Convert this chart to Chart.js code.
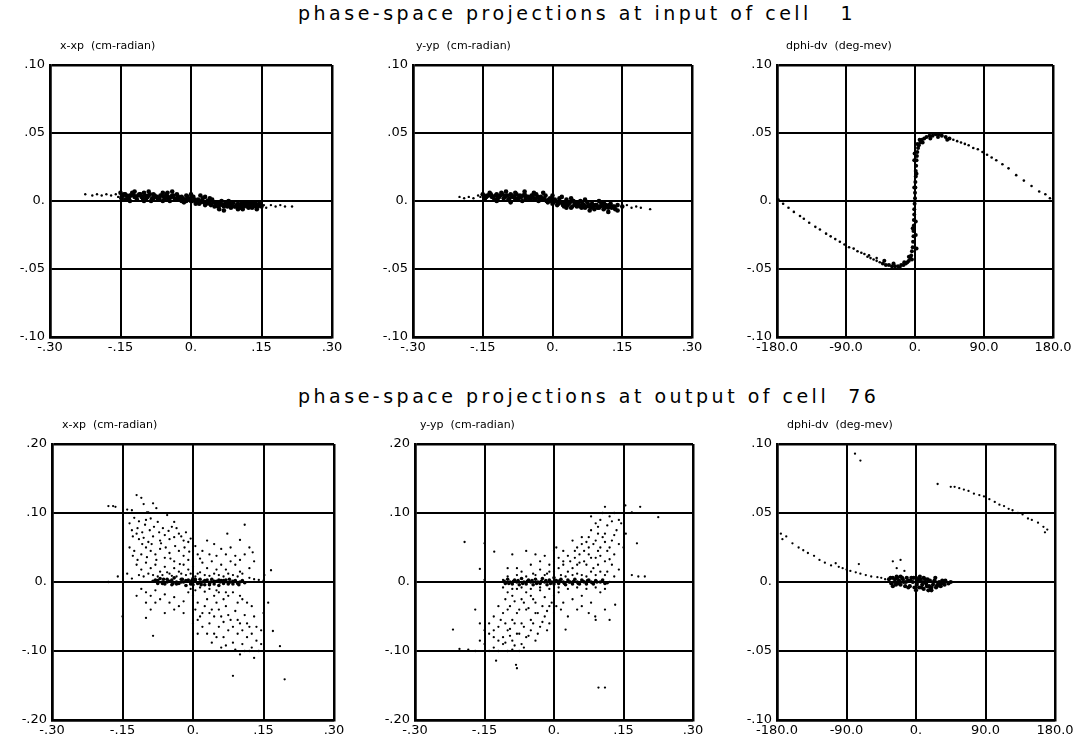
<!DOCTYPE html>
<html>
<head>
<meta charset="utf-8">
<script src="https://cdn.jsdelivr.net/npm/chart.js@4.4.0/dist/chart.umd.min.js"></script>
<style>
  body { margin: 0; background: #fff; width: 1082px; height: 740px; position: relative; overflow: hidden; font-family: "DejaVu Sans", sans-serif; }
  .ttl { position: absolute; white-space: pre; font-size: 19px; letter-spacing: 3.5px; color: #000; }
  canvas { position: absolute; }
</style>
</head>
<body>
<div class="ttl" style="left:298px;top:2px">phase-space projections at input of cell   1</div>
<div class="ttl" style="left:298px;top:385px">phase-space projections at output of cell  76</div>
<canvas id="c1"></canvas>
<canvas id="c2"></canvas>
<canvas id="c3"></canvas>
<canvas id="c4"></canvas>
<canvas id="c5"></canvas>
<canvas id="c6"></canvas>
<script>
// tick values + labels
const xxTicks = [-0.3, -0.15, 0, 0.15, 0.3];
const xxLabels = ["-.30", "-.15", "0.", ".15", ".30"];
const phiTicks = [-180, -90, 0, 90, 180];
const phiLabels = ["-180.0", "-90.0", "0.", "90.0", "180.0"];
const small_yTicks = [-0.1, -0.05, 0, 0.05, 0.1];
const small_yLabels = ["-.10", "-.05", "0.", ".05", ".10"];
const big_yTicks = [-0.2, -0.1, 0, 0.1, 0.2];
const big_yLabels = ["-.20", "-.10", "0.", ".10", ".20"];

// input of cell 1
const in_xxp = [[-0.225,0.005],[-0.21,0.004],[-0.2,0.005],[-0.19,0.004],[-0.18,0.005],[-0.17,0.004],[-0.16,0.005],[-0.155,0.003],[-0.15,0.006],[-0.148,0.002],[-0.145,0.004],[-0.14,0.005],[-0.135,0.002],[-0.13,0.004],[-0.125,0.006],[-0.12,0.003],[-0.115,0.001],[-0.11,0.005],[-0.105,0.003],[-0.1,0.006],[-0.095,0.002],[-0.09,0.004],[-0.085,0.0],[-0.08,0.005],[-0.075,0.003],[-0.07,0.001],[-0.065,0.004],[-0.06,0.006],[-0.055,0.002],[-0.05,0.003],[-0.045,0.0],[-0.04,0.004],[-0.035,0.002],[-0.03,0.005],[-0.025,0.001],[-0.02,0.003],[-0.015,-0.001],[-0.01,0.004],[-0.005,0.002],[0,0.0],[0.005,0.003],[0.01,-0.002],[0.015,0.001],[0.02,-0.001],[0.025,0.002],[0.03,-0.003],[0.035,0.0],[0.04,-0.002],[0.045,0.001],[0.05,-0.004],[0.055,-0.001],[0.06,-0.003],[0.065,0.0],[0.07,-0.004],[0.075,-0.002],[0.08,-0.003],[0.085,-0.005],[0.09,-0.001],[0.095,-0.004],[0.1,-0.002],[0.105,-0.005],[0.11,-0.003],[0.115,-0.001],[0.12,-0.004],[0.125,-0.002],[0.13,-0.005],[0.135,-0.003],[0.14,-0.004],[0.145,-0.002],[0.15,-0.004],[0.155,-0.003],[0.16,-0.005],[0.17,-0.003],[0.18,-0.004],[0.19,-0.003],[0.2,-0.004],[0.215,-0.004],
  [-0.14,0.001],[-0.12,0.007],[-0.1,0.0],[-0.08,0.002],[-0.06,0.0],[-0.04,0.007],[-0.02,0.0],[0,0.005],[0.02,0.004],[0.04,0.002],[0.06,-0.006],[0.08,0.0],[0.1,-0.006],[0.12,-0.001],[0.14,-0.006],[-0.13,0.0],[-0.09,0.007],[-0.05,0.006],[-0.01,0.0],[0.03,0.003],[0.07,-0.007],[0.11,-0.006],[0.13,-0.001],
  [-0.1475,0.003],[-0.1425,0.005],[-0.1375,0.004],[-0.1325,0.002],[-0.1275,0.004],[-0.1225,0.005],[-0.1175,0.003],[-0.1125,0.004],[-0.1075,0.005],[-0.1025,0.002],[-0.0975,0.004],[-0.0925,0.003],[-0.0875,0.005],[-0.0825,0.002],[-0.0775,0.004],[-0.0725,0.003],[-0.0675,0.002],[-0.0625,0.004],[-0.0575,0.003],[-0.0525,0.005],[-0.0475,0.002],[-0.0425,0.003],[-0.0375,0.004],[-0.0325,0.001],[-0.0275,0.003],[-0.0225,0.002],[-0.0175,0.002],[-0.0125,0.001],[-0.0075,0.003],[-0.0025,0.001],[0.0025,0.0],[0.0075,0.001],[0.0125,0.0],[0.0175,-0.002],[0.0225,0.0],[0.0275,-0.001],[0.0325,-0.002],[0.0375,0.0],[0.0425,-0.003],[0.0475,-0.001],[0.0525,-0.002],[0.0575,-0.004],[0.0625,-0.002],[0.0675,-0.003],[0.0725,-0.002],[0.0775,-0.004],[0.0825,-0.002],[0.0875,-0.003],[0.0925,-0.004],[0.0975,-0.003],[0.1025,-0.004],[0.1075,-0.002],[0.1125,-0.004],[0.1175,-0.003],[0.1225,-0.005],[0.1275,-0.003],[0.1325,-0.004],[0.1375,-0.002],[0.1425,-0.004],[0.1475,-0.003]];

const in_yyp = [[-0.2,0.003],[-0.19,0.002],[-0.18,0.003],[-0.17,0.002],[-0.16,0.004],[-0.155,0.003],[-0.15,0.005],[-0.145,0.002],[-0.14,0.004],[-0.135,0.006],[-0.13,0.003],[-0.125,0.001],[-0.12,0.005],[-0.115,0.003],[-0.11,0.006],[-0.105,0.002],[-0.1,0.004],[-0.095,0.001],[-0.09,0.005],[-0.085,0.003],[-0.08,0.006],[-0.075,0.002],[-0.07,0.004],[-0.065,0.0],[-0.06,0.005],[-0.055,0.003],[-0.05,0.001],[-0.045,0.004],[-0.04,0.002],[-0.035,0.005],[-0.03,0.0],[-0.025,0.003],[-0.02,0.001],[-0.015,0.004],[-0.01,-0.001],[-0.005,0.002],[0,0.004],[0,-0.002],[0.005,0.001],[0.01,-0.003],[0.015,0.002],[0.02,-0.001],[0.025,-0.004],[0.03,0.001],[0.035,-0.002],[0.04,-0.005],[0.045,0.0],[0.05,-0.003],[0.055,-0.001],[0.06,-0.004],[0.065,-0.002],[0.07,-0.005],[0.075,-0.001],[0.08,-0.004],[0.085,-0.002],[0.09,-0.006],[0.095,-0.003],[0.1,-0.005],[0.105,-0.002],[0.11,-0.006],[0.115,-0.003],[0.12,-0.005],[0.125,-0.002],[0.13,-0.004],[0.135,-0.006],[0.14,-0.003],[0.15,-0.004],[0.16,-0.003],[0.17,-0.005],[0.18,-0.004],[0.19,-0.005],[0.21,-0.006],
  [-0.12,0.0],[-0.1,0.007],[-0.08,0.001],[-0.06,0.007],[-0.04,0.006],[-0.02,0.006],[0,0.001],[0.02,0.003],[0.04,0.002],[0.06,0.0],[0.08,-0.007],[0.1,0.0],[0.12,-0.008],[0.14,-0.007],[0.03,-0.005],[0.07,0.001],[0.11,-0.001],[-0.09,-0.001],
  [-0.1475,0.004],[-0.1425,0.003],[-0.1375,0.004],[-0.1325,0.005],[-0.1275,0.003],[-0.1225,0.004],[-0.1175,0.002],[-0.1125,0.004],[-0.1075,0.005],[-0.1025,0.003],[-0.0975,0.004],[-0.0925,0.002],[-0.0875,0.004],[-0.0825,0.003],[-0.0775,0.005],[-0.0725,0.002],[-0.0675,0.003],[-0.0625,0.004],[-0.0575,0.002],[-0.0525,0.003],[-0.0475,0.002],[-0.0425,0.004],[-0.0375,0.001],[-0.0325,0.003],[-0.0275,0.002],[-0.0225,0.001],[-0.0175,0.002],[-0.0125,0.0],[-0.0075,0.001],[-0.0025,0.0],[0.0025,-0.001],[0.0075,0.0],[0.0125,-0.002],[0.0175,-0.001],[0.0225,-0.003],[0.0275,-0.002],[0.0325,-0.003],[0.0375,-0.001],[0.0425,-0.004],[0.0475,-0.002],[0.0525,-0.004],[0.0575,-0.003],[0.0625,-0.005],[0.0675,-0.003],[0.0725,-0.004],[0.0775,-0.003],[0.0825,-0.005],[0.0875,-0.004],[0.0925,-0.003],[0.0975,-0.005],[0.1025,-0.004],[0.1075,-0.003],[0.1125,-0.005],[0.1175,-0.004],[0.1225,-0.003],[0.1275,-0.005],[0.1325,-0.004]];

const in_dphi = [[-178,0.001],[-172,-0.002],[-165,-0.005],[-158,-0.008],[-150,-0.011],[-145,-0.013],[-138,-0.016],[-130,-0.019],[-124,-0.021],[-116,-0.024],[-110,-0.026],[-104,-0.028],[-98,-0.03],[-92,-0.032],[-86,-0.034],[-80,-0.035],[-75,-0.037],[-70,-0.038],[-66,-0.039],[-62,-0.041],[-58,-0.042],[-54,-0.043],[-50,-0.044],[-46,-0.045],[-42,-0.046],[-38,-0.047],[-34,-0.047],[-30,-0.048],[-26,-0.048],[-22,-0.048],[-18,-0.047],[-15,-0.047],[-12,-0.046],[-10,-0.045],[-8,-0.044],[-6,-0.042],[-5,-0.04],[-4,-0.037],[-3,-0.034],[-2.5,-0.03],[-2,-0.026],[-2,-0.022],[-1.5,-0.018],[-1.5,-0.014],[-1,-0.01],[-1,-0.006],[-0.5,-0.002],[0,0.002],[0,0.006],[0.5,0.01],[0.5,0.014],[1,0.018],[1,0.022],[1.5,0.026],[2,0.03],[2.5,0.033],[3,0.036],[4,0.039],[5,0.041],[7,0.043],[9,0.045],[12,0.046],[15,0.047],[19,0.048],[23,0.048],[27,0.049],[31,0.049],[35,0.048],[40,0.047],[45,0.046],[50,0.045],[55,0.044],[60,0.043],[65,0.042],[70,0.041],[76,0.039],[82,0.038],[88,0.036],[94,0.034],[100,0.032],[106,0.03],[114,0.027],[122,0.024],[132,0.019],[142,0.015],[152,0.011],[162,0.007],[170,0.005],[176,0.002],
  [-28,-0.046],[-20,-0.049],[-14,-0.045],[-8,-0.041],[-4,-0.043],[-3,-0.02],[1,-0.015],[-1,0.01],[2,0.02],[-1,0.03],[3,0.042],[6,0.045],[10,0.043],[20,0.046],[30,0.047],[42,0.045],[-40,-0.044],[-50,-0.042],[-60,-0.04],[2,-0.035],[1,-0.025],[-0.5,0.035]];

// output of cell 76
const out_xxp = [[-0.18,0.11],[-0.17,0.11],[-0.165,0.109],[-0.12,0.126],[-0.11,0.122],[-0.14,0.105],[-0.13,0.104],[-0.105,0.113],[-0.085,0.114],[-0.078,0.107],[-0.095,0.101],[-0.098,0.101],
  [-0.125,0.093],[-0.115,0.088],[-0.1,0.09],[-0.09,0.092],[-0.075,0.087],[-0.055,0.097],[-0.04,0.087],
  [-0.13,0.075],[-0.12,0.07],[-0.115,0.062],[-0.105,0.064],[-0.095,0.058],[-0.085,0.066],[-0.07,0.06],[-0.06,0.068],[-0.05,0.062],[-0.04,0.065],[-0.03,0.07],[-0.02,0.06],[-0.01,0.058],
  [-0.135,0.05],[-0.125,0.045],[-0.11,0.04],[-0.1,0.05],[-0.09,0.045],[-0.08,0.04],[-0.07,0.048],[-0.06,0.035],[-0.05,0.042],[-0.04,0.03],[-0.03,0.045],[-0.02,0.038],[-0.01,0.032],[0,0.045],[0.01,0.04],
  [-0.12,0.025],[-0.11,0.018],[-0.1,0.028],[-0.09,0.02],[-0.08,0.025],[-0.07,0.015],[-0.06,0.022],[-0.05,0.012],[-0.04,0.02],[-0.03,0.015],[-0.02,0.025],[-0.01,0.018],[0,0.022],[0.01,0.012],[0.02,0.028],[0.03,0.02],[0.04,0.03],[0.05,0.018],[0.06,0.025],
  [0.02,0.045],[0.035,0.04],[0.05,0.038],[0.06,0.048],[0.07,0.04],[0.08,0.05],[0.09,0.038],[0.073,0.07],[0.1,0.061],[0.11,0.083],[0.127,0.043],[0.166,0.017],[0.152,0.01],[0.12,0.02],[0.1,0.015],[0.03,0.06],[0.045,0.055],
  [-0.16,0.008],[-0.18,0.0],[-0.14,0.012],[-0.13,0.005],
  [-0.135,0.085],[-0.128,0.066],[-0.118,0.078],[-0.108,0.072],[-0.102,0.083],[-0.092,0.075],[-0.083,0.08],[-0.072,0.072],[-0.064,0.078],[-0.052,0.074],[-0.045,0.08],[-0.035,0.078],[-0.025,0.066],[-0.015,0.072],[-0.005,0.063],[-0.128,0.038],[-0.118,0.032],[-0.108,0.055],[-0.098,0.036],[-0.088,0.055],[-0.078,0.032],[-0.068,0.056],[-0.058,0.05],[-0.048,0.034],[-0.038,0.052],[-0.028,0.026],[-0.018,0.05],[-0.008,0.044],[0.005,0.052],[0.015,0.034],
  [-0.115,0.01],[-0.105,0.008],[-0.095,0.012],[-0.085,0.01],[-0.075,0.008],[-0.065,0.01],[-0.055,0.014],[-0.045,0.009],[-0.035,0.008],[-0.025,0.012],[-0.015,0.01],[-0.005,0.012],[0.005,0.008],[0.015,0.014],[0.025,0.01],[0.035,0.009],[0.045,0.012],[0.055,0.01],[0.065,0.008],[0.075,0.012],[0.085,0.01],[0.095,0.008],[0.105,0.012],[0.12,0.006],[0.13,0.004],[0.14,0.003],[0.15,0.002],[0.09,0.025],[0.08,0.03],[0.07,0.018],[0.1,0.032],[0.11,0.04],[0.12,0.05],[0.13,0.03],
  [-0.08,0.003],[-0.075,-0.002],[-0.07,0.005],[-0.065,0.0],[-0.06,-0.003],[-0.055,0.004],[-0.05,0.001],[-0.045,-0.004],[-0.04,0.006],[-0.035,0.0],[-0.03,-0.002],[-0.025,0.004],[-0.02,0.0],[-0.015,-0.005],[-0.01,0.003],[-0.005,0.0],[0,0.005],[0,-0.004],[0.005,0.001],[0.01,-0.002],[0.015,0.004],[0.02,0.0],[0.025,-0.004],[0.03,0.003],[0.035,-0.001],[0.04,0.004],[0.045,-0.003],[0.05,0.001],[0.055,-0.005],[0.06,0.002],[0.065,-0.002],[0.07,0.003],[0.075,-0.001],[0.08,0.0],[0.085,-0.003],[0.09,0.002],[0.1,0.0],[0.11,-0.001],
  [-0.085,0.001],[-0.075,0.002],[-0.065,-0.002],[-0.055,0.0],[-0.045,0.003],[-0.035,-0.003],[-0.025,0.0],[-0.015,0.002],[-0.005,-0.003],[0.005,0.004],[0.015,-0.001],[0.025,0.002],[0.035,-0.004],[0.045,0.001],[0.055,0.003],[0.065,0.002],[0.075,-0.003],[0.085,0.001],[0.095,-0.002],[0.105,0.002],[-0.0625,0.004],[-0.0425,-0.002],[-0.0225,0.004],[-0.0025,0.002],[0.0175,-0.004],[0.0375,0.0],[0.0575,0.0],[0.0775,0.004],[0.0975,-0.004],
  [-0.11,-0.01],[-0.1,-0.015],[-0.09,-0.02],[-0.08,-0.012],[-0.07,-0.025],[-0.06,-0.018],[-0.05,-0.03],[-0.04,-0.022],[-0.03,-0.035],[-0.02,-0.028],[-0.01,-0.015],[-0.15,-0.05],[-0.1,-0.052],[-0.085,-0.078],[-0.06,-0.045],
  [0,-0.02],[0.01,-0.03],[0.02,-0.045],[0.03,-0.025],[0.04,-0.04],[0.05,-0.03],[0.06,-0.05],[0.07,-0.035],[0.08,-0.055],[0.09,-0.042],[0.1,-0.06],[0.11,-0.048],[0.12,-0.065],[0.13,-0.05],[0.01,-0.055],[0.02,-0.065],[0.035,-0.06],[0.045,-0.075],[0.055,-0.065],[0.065,-0.08],[0.075,-0.07],[0.085,-0.088],[0.095,-0.075],[0.105,-0.09],[0.115,-0.08],[0.125,-0.095],[0.135,-0.085],[0.14,-0.1],[0.145,-0.07],[0.13,-0.11],[0.12,-0.1],[0.06,-0.095],[0.04,-0.088],[0.185,-0.093],[0.17,-0.071],[0.085,-0.136],[0.195,-0.141],[0.16,-0.03],[0.15,-0.045],[0.01,-0.075],[0.1,-0.02],[0.07,-0.015],[0.05,-0.012],
  [-0.005,-0.01],[0.005,-0.012],[0.015,-0.008],[0.025,-0.014],[0.035,-0.01],[0.045,-0.02],[0.055,-0.015],[0.065,-0.025],[0.075,-0.02],[0.085,-0.015],[0.095,-0.03],[0.105,-0.025],[0.115,-0.03],[0.125,-0.035],[0.005,-0.04],[0.015,-0.05],[0.025,-0.035],[0.035,-0.045],[0.045,-0.05],[0.055,-0.04],[0.065,-0.058],[0.075,-0.048],[0.085,-0.065],[0.095,-0.055],[0.105,-0.07],[0.115,-0.06],[0.125,-0.075],[0.135,-0.065],[0.145,-0.09],[0.05,-0.08],[0.07,-0.092],[0.09,-0.098],[0.11,-0.1],[0.1,-0.105],[0.03,-0.075],[0,-0.06],[-0.02,-0.045],[-0.04,-0.04],[-0.08,-0.03],[-0.12,-0.02],[-0.1,-0.03],[-0.09,-0.04]];

const out_yyp = [[0.11,0.109],[0.154,0.111],[0.168,0.101],[0.186,0.109],[0.225,0.094],[0.179,0.056],[0.168,0.01],[0.182,0.008],[0.196,0.008],
  [0.13,0.1],[0.12,0.095],[0.14,0.09],[0.1,0.09],[0.09,0.085],[0.115,0.082],[0.135,0.075],[0.145,0.085],[0.155,0.07],[0.08,0.075],[0.095,0.07],[0.105,0.065],[0.125,0.06],[0.14,0.055],[0.06,0.065],[0.07,0.058],[0.085,0.055],[0.1,0.05],[0.115,0.045],[0.13,0.04],[0.15,0.05],[0.04,0.06],[0.05,0.05],[0.065,0.045],[0.075,0.04],[0.09,0.035],[0.11,0.03],[0.125,0.025],[0.02,0.045],[0.03,0.038],[0.045,0.035],[0.055,0.028],[0.07,0.025],[0.085,0.02],[0.1,0.015],[0.14,0.018],
  [-0.06,0.045],[-0.04,0.04],[-0.03,0.03],[-0.02,0.038],[-0.01,0.025],[0,0.03],[0.005,0.05],[0.01,0.02],[0.02,0.025],[0.03,0.015],[0.04,0.02],[-0.08,0.02],[-0.07,0.015],[-0.05,0.025],[-0.045,0.012],[-0.03,0.018],[-0.015,0.012],[0,0.015],[0.05,0.012],[0.06,0.01],
  [-0.193,0.058],[-0.15,0.056],[-0.129,0.044],[-0.16,0.019],[-0.15,0.003],[-0.1,0.02],[-0.09,0.04],
  [0.08,0.095],[0.105,0.1],[0.125,0.088],[0.095,0.08],[0.11,0.07],[0.13,0.068],[0.075,0.065],[0.09,0.06],[0.11,0.058],[0.06,0.055],[0.075,0.05],[0.095,0.045],[0.12,0.05],[0.045,0.045],[0.055,0.04],[0.08,0.035],[0.1,0.038],[0.12,0.033],[0.035,0.03],[0.05,0.025],[0.065,0.03],[0.08,0.015],[0.095,0.025],[0.115,0.015],[0.01,0.035],[0.02,0.03],[-0.01,0.015],[0,0.045],[0.015,0.01],[0.025,0.008],[0.04,0.01],[0.07,0.008],[0.09,0.01],[0.11,0.01],[0.13,0.008],[-0.02,0.01],[-0.04,0.01],[-0.06,0.008],[-0.08,0.01],[-0.1,0.008],
  [-0.11,0.003],[-0.105,-0.002],[-0.1,0.004],[-0.095,0.0],[-0.09,-0.003],[-0.085,0.003],[-0.08,0.0],[-0.075,-0.004],[-0.07,0.005],[-0.065,0.0],[-0.06,-0.003],[-0.055,0.003],[-0.05,0.0],[-0.045,-0.004],[-0.04,0.004],[-0.035,0.0],[-0.03,-0.002],[-0.025,0.005],[-0.02,0.0],[-0.015,-0.004],[-0.01,0.003],[-0.005,0.0],[0,0.006],[0,-0.003],[0.005,0.002],[0.01,-0.002],[0.015,0.004],[0.02,0.0],[0.025,-0.004],[0.03,0.003],[0.035,0.0],[0.04,-0.003],[0.045,0.004],[0.05,0.0],[0.055,-0.003],[0.06,0.003],[0.065,0.0],[0.07,-0.003],[0.075,0.003],[0.08,0.0],[0.085,-0.003],[0.09,0.002],[0.1,0.0],[0.11,-0.002],[0.12,0.0],
  [-0.1075,0.001],[-0.0975,-0.002],[-0.0875,0.001],[-0.0775,0.002],[-0.0675,-0.002],[-0.0575,0.001],[-0.0475,0.002],[-0.0375,-0.002],[-0.0275,0.001],[-0.0175,0.002],[-0.0075,-0.002],[0.0025,0.001],[0.0125,0.002],[0.0225,-0.002],[0.0325,0.0],[0.0425,0.001],[0.0525,-0.002],[0.0625,0.001],[0.0725,0.002],[0.0825,-0.001],[0.0925,0.0],[0.105,0.003],[0.115,-0.001],
  [-0.11,-0.008],[-0.09,-0.01],[-0.07,-0.008],[-0.05,-0.01],[-0.03,-0.008],[-0.01,-0.01],[0.01,-0.008],[0.03,-0.01],[0.05,-0.008],[0.07,-0.01],[0.09,-0.008],[0.11,-0.01],
  [-0.1,-0.015],[-0.09,-0.02],[-0.08,-0.01],[-0.07,-0.025],[-0.06,-0.015],[-0.05,-0.02],[-0.04,-0.03],[-0.03,-0.012],[-0.02,-0.022],[-0.01,-0.035],[0,-0.02],[0.01,-0.015],[0.02,-0.03],[0.04,-0.025],[0.06,-0.02],[0.08,-0.03],[0.1,-0.015],
  [-0.105,-0.025],[-0.095,-0.035],[-0.085,-0.028],[-0.075,-0.04],[-0.065,-0.03],[-0.055,-0.038],[-0.045,-0.025],[-0.035,-0.045],[-0.025,-0.035],[-0.015,-0.042],[-0.005,-0.03],[0.005,-0.035],[0.015,-0.04],
  [-0.12,-0.035],[-0.11,-0.045],[-0.1,-0.04],[-0.09,-0.055],[-0.08,-0.045],[-0.07,-0.06],[-0.06,-0.04],[-0.05,-0.055],[-0.04,-0.045],[-0.03,-0.065],[-0.02,-0.05],[-0.01,-0.06],[0,-0.045],
  [-0.115,-0.055],[-0.105,-0.06],[-0.095,-0.068],[-0.085,-0.06],[-0.075,-0.075],[-0.065,-0.065],[-0.055,-0.078],[-0.045,-0.06],[-0.035,-0.075],[-0.025,-0.058],[-0.015,-0.07],
  [-0.14,-0.06],[-0.13,-0.07],[-0.12,-0.065],[-0.11,-0.08],[-0.1,-0.07],[-0.09,-0.085],[-0.08,-0.075],[-0.07,-0.09],[-0.06,-0.08],[-0.05,-0.07],[-0.04,-0.085],
  [-0.13,-0.08],[-0.12,-0.085],[-0.105,-0.088],[-0.095,-0.078],[-0.085,-0.092],[-0.075,-0.1],[-0.065,-0.095],[-0.14,-0.075],[-0.15,-0.07],[-0.13,-0.05],
  [-0.15,-0.09],[-0.14,-0.1],[-0.13,-0.095],[-0.12,-0.1],[-0.11,-0.09],[-0.1,-0.1],[-0.09,-0.098],[-0.16,-0.085],
  [-0.218,-0.069],[-0.204,-0.097],[-0.185,-0.098],[-0.17,-0.1],[-0.125,-0.114],[-0.082,-0.12],[-0.08,-0.125],[0.096,-0.153],[0.11,-0.153],
  [0.132,-0.033],[0.089,-0.05],[0.025,-0.069],[0.05,-0.04],[0.09,-0.055],[-0.17,-0.04],[-0.16,-0.06],[0.03,-0.05],[0.06,-0.035],[0.075,-0.045],[0.11,-0.04],[0.12,-0.055]];

const out_dphi = [[-175,0.035],[-173,0.031],[-168,0.033],[-160,0.028],[-152,0.025],[-146,0.023],[-140,0.021],[-132,0.019],[-125,0.016],[-118,0.014],[-110,0.012],[-104,0.0136],[-100,0.011],[-95,0.01],[-90,0.009],[-85,0.008],[-78,0.007],[-72,0.006],[-65,0.005],[-58,0.004],[-50,0.0035],[-45,0.003],[-40,0.002],[-74,0.013],[-30,0.015],[-20,0.016],[-25,0.01],[-15,0.008],
  [-79,0.093],[-72,0.088],
  [28,0.071],[45,0.069],[50,0.069],[56,0.068],[62,0.067],[68,0.066],[75,0.064],[82,0.063],[88,0.062],[95,0.06],[102,0.058],[108,0.056],[114,0.055],[120,0.053],[125,0.052],[132,0.05],[138,0.049],[145,0.046],[150,0.045],[158,0.043],[165,0.04],[170,0.038],[167,0.036],
  [-35,0.002],[-32,-0.001],[-30,0.003],[-28,0.0],[-26,-0.002],[-24,0.003],[-22,0.001],[-20,-0.002],[-18,0.003],[-16,0.0],[-14,-0.003],[-12,0.003],[-10,0.001],[-8,-0.003],[-6,0.003],[-4,0.0],[-2,-0.004],[0,0.003],[2,0.0],[4,-0.004],[6,0.002],[8,-0.002],[10,-0.005],[12,0.002],[14,-0.003],[16,-0.006],[18,0.001],[20,-0.004],[22,-0.002],[24,0.001],[26,-0.004],[28,-0.002],[30,0.0],[32,-0.003],[35,-0.001],[38,0.001],[42,-0.001],[45,0.0],
  [-20,0.004],[-10,-0.004],[0,-0.006],[5,0.004],[10,0.003],[15,0.002],[20,-0.006],[-30,-0.003],[-25,0.004],[25,0.003],
  [-33,0.003],[-27,0.002],[-23,-0.001],[-17,0.002],[-13,0.0],[-7,0.001],[-3,0.003],[1,-0.002],[3,0.002],[7,-0.004],[9,0.0],[13,-0.001],[17,-0.003],[19,-0.005],[23,0.0],[27,-0.003],[31,-0.002],[34,0.001],[37,-0.002]];

// little plugin for the label above each box
const subLabel = {
  id: "subLabel",
  afterDraw(chart, args, opts) {
    const ctx = chart.ctx, a = chart.chartArea;
    ctx.save();
    ctx.fillStyle = "#000";
    ctx.font = "11px 'DejaVu Sans'";
    ctx.textBaseline = "middle";
    ctx.fillText(opts.text, a.left + opts.dx, a.top - 19);
    ctx.restore();
  }
};

const padL = 48, padR = 26, padT = 34, padB = 24;

// dot size: the dense parts of each cloud are printed heavier
function dotSize(kind) {
  return (c) => {
    const p = c.raw;
    if (!p) return 1;
    if (kind === "band") return Math.abs(p.x) <= 0.15 ? 2.3 : 1.2;
    if (kind === "curve") return (p.x > -45 && p.x < 50) ? 2.0 : 1.3;
    if (kind === "cloud") return (Math.abs(p.y) < 0.0065 && p.x > -0.11 && p.x < 0.12) ? 1.8 : 1.15;
    if (kind === "phi") return (Math.abs(p.y) < 0.0065 && p.x > -36 && p.x < 46) ? 2.1 : 1.15;
    return 1.2;
  };
}

function panel(id, box, sub, dx, pts, xT, xL, yT, yL, kind) {
  const cv = document.getElementById(id);
  cv.width = box.w + padL + padR;
  cv.height = box.h + padT + padB;
  cv.style.left = (box.x - padL) + "px";
  cv.style.top = (box.y - padT) + "px";
  const edge = (c) => (c.index === 0 || c.index === 4) ? 2.5 : 2;
  return new Chart(cv, {
    type: "scatter",
    data: { datasets: [{ data: pts.map(p => ({ x: p[0], y: p[1] })), backgroundColor: "#000", borderWidth: 0, pointRadius: dotSize(kind) }] },
    options: {
      responsive: false, animation: false, devicePixelRatio: 1,
      layout: { padding: { top: padT, right: padR, left: 0, bottom: 0 } },
      plugins: { legend: { display: false }, tooltip: { enabled: false }, subLabel: { text: sub, dx: dx } },
      scales: {
        x: {
          type: "linear", min: xT[0], max: xT[xT.length - 1],
          afterBuildTicks: s => { s.ticks = xT.map(v => ({ value: v })); },
          afterFit: s => { s.height = padB; },
          ticks: { callback: (v, i) => xL[i], color: "#000", font: { family: "DejaVu Sans", size: 13 }, maxRotation: 0, autoSkip: false, padding: 3 },
          grid: { color: "#000", lineWidth: edge, drawTicks: false },
          border: { color: "#000", width: 2.5 }
        },
        y: {
          type: "linear", min: yT[0], max: yT[yT.length - 1],
          afterBuildTicks: s => { s.ticks = yT.map(v => ({ value: v })); },
          afterFit: s => { s.width = padL; },
          ticks: { callback: (v, i) => yL[i], color: "#000", font: { family: "DejaVu Sans", size: 13 }, autoSkip: false, padding: 5 },
          grid: { color: "#000", lineWidth: edge, drawTicks: false },
          border: { color: "#000", width: 2.5 }
        }
      }
    },
    plugins: [subLabel]
  });
}

panel("c1", { x: 50, y: 65, w: 282, h: 272 }, "x-xp  (cm-radian)", 10, in_xxp, xxTicks, xxLabels, small_yTicks, small_yLabels, "band");
panel("c2", { x: 413, y: 65, w: 279, h: 272 }, "y-yp  (cm-radian)", 3, in_yyp, xxTicks, xxLabels, small_yTicks, small_yLabels, "band");
panel("c3", { x: 777, y: 65, w: 276, h: 272 }, "dphi-dv  (deg-mev)", 9, in_dphi, phiTicks, phiLabels, small_yTicks, small_yLabels, "curve");
panel("c4", { x: 52, y: 444, w: 282, h: 276 }, "x-xp  (cm-radian)", 10, out_xxp, xxTicks, xxLabels, big_yTicks, big_yLabels, "cloud");
panel("c5", { x: 415, y: 444, w: 278, h: 276 }, "y-yp  (cm-radian)", 5, out_yyp, xxTicks, xxLabels, big_yTicks, big_yLabels, "cloud");
panel("c6", { x: 777, y: 444, w: 278, h: 276 }, "dphi-dv  (deg-mev)", 10, out_dphi, phiTicks, phiLabels, small_yTicks, small_yLabels, "phi");
</script>
</body>
</html>
